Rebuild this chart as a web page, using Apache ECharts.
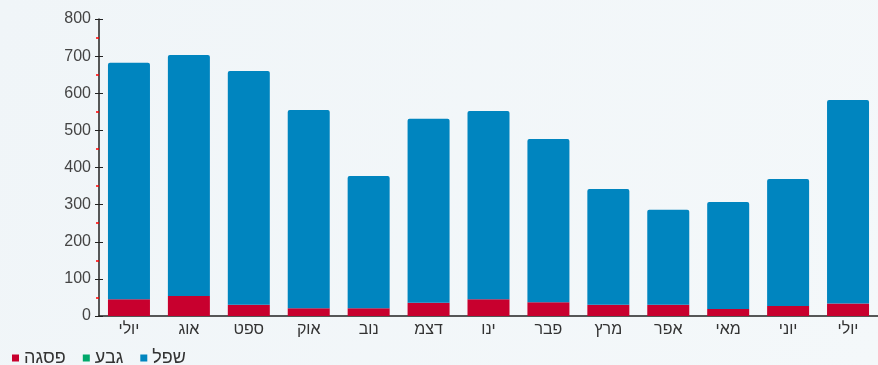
<!DOCTYPE html>
<html>
<head>
<meta charset="utf-8">
<script src="https://cdn.jsdelivr.net/npm/echarts@6/dist/echarts.min.js"></script>
<style>
    html, body { margin: 0; padding: 0; }
    #chart { width: 878px; height: 365px; }
</style>
</head>
<body>
<div id="chart"></div>
<script>
    var months = ['יולי', 'אוג', 'ספט', 'אוק', 'נוב', 'דצמ', 'ינו', 'פבר', 'מרץ', 'אפר', 'מאי', 'יוני', 'יולי'];
    // פסגה (peak) - bottom red segment
    var peak = [45, 54, 30, 21, 21, 36, 45, 37, 30, 30, 19, 27, 34];
    // גבע - empty in the picture
    var mid = [0, 0, 0, 0, 0, 0, 0, 0, 0, 0, 0, 0, 0];
    // totals
    var totals = [682, 703, 660, 555, 377, 531, 552, 477, 342, 286, 307, 369, 582];
    var low = totals.map(function (t, i) { return t - peak[i] - mid[i]; });

    var chart = echarts.init(document.getElementById('chart'));
    chart.setOption({
        backgroundColor: {
            type: 'linear', x: 0, y: 0, x2: 1, y2: 1,
            colorStops: [
                { offset: 0, color: '#f0f5f8' },
                { offset: 1, color: '#f4f8fa' }
            ]
        },
        animation: false,
        textStyle: { fontFamily: 'Liberation Sans' },
        legend: {
            left: 7,
            top: 344,
            itemWidth: 7,
            itemHeight: 7,
            itemGap: 17,
            icon: 'rect',
            textStyle: { fontSize: 18, color: '#333' },
            data: ['פסגה', 'גבע', 'שפל']
        },
        grid: {
            left: 99,
            right: -5,
            top: 19,
            bottom: 49
        },
        xAxis: {
            type: 'category',
            data: months,
            axisLine: { lineStyle: { color: '#222', width: 1.5 } },
            axisTick: { alignWithLabel: true, length: 4, lineStyle: { color: '#222' } },
            axisLabel: { fontSize: 16, color: '#333', margin: 6 }
        },
        yAxis: [{
            type: 'value',
            min: 0,
            max: 800,
            interval: 100,
            axisLine: { show: true, lineStyle: { color: '#222', width: 1.5 } },
            axisTick: { show: true, length: 4, lineStyle: { color: '#222' } },
            minorTick: { show: true, splitNumber: 2, length: 3, lineStyle: { color: '#f00', width: 1.5 } },
            splitLine: { show: false },
            axisLabel: { fontSize: 16, color: '#444', margin: 8 }
        }, {
            type: 'value',
            position: 'left',
            min: 0,
            max: 800,
            interval: 100,
            axisLine: { show: false },
            axisTick: { show: true, inside: true, length: 4, lineStyle: { color: '#222' } },
            splitLine: { show: false },
            axisLabel: { show: false }
        }],
        series: [{
            name: 'פסגה',
            type: 'bar',
            stack: 'total',
            barWidth: 42,
            data: peak,
            itemStyle: { color: '#c8002e' }
        }, {
            name: 'גבע',
            type: 'bar',
            stack: 'total',
            data: mid,
            itemStyle: { color: '#00a86b' }
        }, {
            name: 'שפל',
            type: 'bar',
            stack: 'total',
            data: low,
            itemStyle: { color: '#0085bf', borderRadius: [2, 2, 0, 0] }
        }]
    });
</script>
</body>
</html>
